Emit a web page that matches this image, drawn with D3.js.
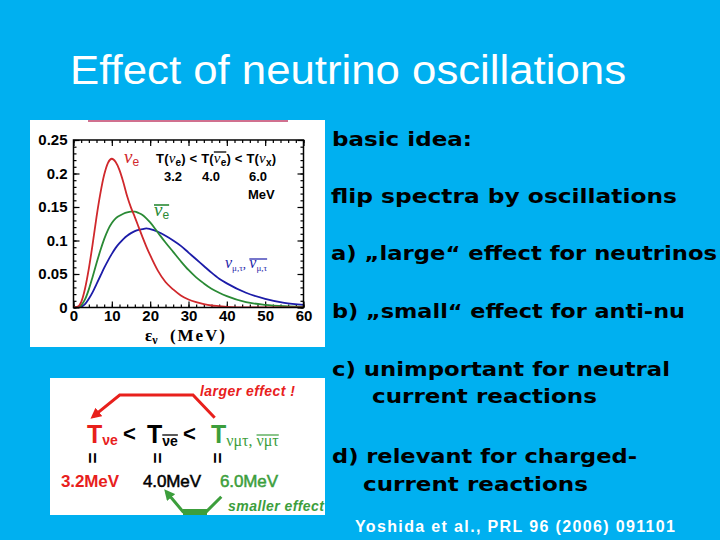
<!DOCTYPE html>
<html>
<head>
<meta charset="utf-8">
<script src="https://cdn.jsdelivr.net/npm/d3@7"></script>
<style>
  html, body { margin: 0; padding: 0; background: #00b0f0; }
  svg { display: block; }
</style>
</head>
<body>
<script>
// spectra (MeV, arbitrary norm)
const energy = [0, 1, 2, 3, 4, 5, 6, 7, 8, 9, 10, 11, 12, 13, 14, 15, 16, 17, 18, 19, 20,
  22, 24, 26, 28, 30, 32, 34, 36, 38, 40, 45, 50, 55, 60];
const nuE = [0, 0.001, 0.008, 0.028, 0.058, 0.095, 0.135, 0.17, 0.198, 0.216, 0.222, 0.217,
  0.205, 0.187, 0.166, 0.149, 0.135, 0.12, 0.105, 0.091, 0.078,
  0.055, 0.038, 0.027, 0.018, 0.012, 0.008, 0.005, 0.003, 0.002, 0.001, 0, 0, 0, 0];
const nuEBar = [0, 0, 0.003, 0.012, 0.027, 0.046, 0.066, 0.085, 0.102, 0.116, 0.126, 0.133,
  0.137, 0.14, 0.142, 0.143, 0.143, 0.141, 0.138, 0.133, 0.127,
  0.112, 0.097, 0.083, 0.069, 0.056, 0.045, 0.036, 0.028, 0.022, 0.017, 0.008, 0.004, 0.002, 0.001];
const nuX = [0, 0, 0.001, 0.005, 0.013, 0.023, 0.035, 0.047, 0.059, 0.07, 0.08, 0.089,
  0.096, 0.102, 0.107, 0.111, 0.114, 0.116, 0.117, 0.118, 0.117,
  0.113, 0.107, 0.1, 0.092, 0.082, 0.072, 0.062, 0.052, 0.043, 0.036, 0.022, 0.013, 0.007, 0.004];

const xTicks = [0, 10, 20, 30, 40, 50, 60];
const xMinor = d3.range(0, 61, 2);
const yTicks = [0, 0.05, 0.1, 0.15, 0.2, 0.25];
const yTickLabels = ['0', '0.05', '0.1', '0.15', '0.2', '0.25'];
const yMinor = d3.range(0, 26, 1).map((d) => d / 100);

const temps = ['3.2', '4.0', '6.0'];

const bullets = [
  'basic idea:',
  'flip spectra by oscillations',
  'a) \u201elarge\u201c effect for neutrinos',
  'b) \u201esmall\u201c effect for anti-nu',
  'c) unimportant for neutral',
  'current reactions',
  'd) relevant for charged-',
  'current reactions',
];
// x, baseline, width
const bulletPos = [
  [332, 146, 140], [331, 203, 346], [331, 260, 386], [332, 318, 353],
  [332, 376, 338], [372, 403, 225], [332, 463, 305], [363, 491, 225],
];

const SANS = '"Liberation Sans", Arial, sans-serif';
const HEAVY = '"DejaVu Sans", "Liberation Sans", sans-serif';
const SERIF = '"Liberation Serif", "Times New Roman", serif';
const RED = '#d0282c';
const GREEN = '#2a8a35';
const BLUE = '#1c1ca8';
const RED2 = '#e8201c';
const GREEN2 = '#3c9e3c';

const svg = d3.select('body').append('svg')
    .attr('width', 720)
    .attr('height', 540);

svg.append('rect')
    .attr('width', 720)
    .attr('height', 540)
    .attr('fill', '#00b0f0');

svg.append('text')
    .attr('x', 70)
    .attr('y', 84)
    .attr('font-family', SANS)
    .attr('font-size', 40)
    .attr('fill', '#fff')
    .attr('textLength', 556)
    .attr('lengthAdjust', 'spacingAndGlyphs')
    .text('Effect of neutrino oscillations');

// ---- chart panel ----
svg.append('rect')
    .attr('x', 30).attr('y', 120)
    .attr('width', 295).attr('height', 227)
    .attr('fill', '#fff');
svg.append('line')
    .attr('x1', 88).attr('x2', 288)
    .attr('y1', 121).attr('y2', 121)
    .attr('stroke', '#c0406a')
    .attr('stroke-width', 1.5);

const x = d3.scaleLinear().domain([0, 60]).range([73.5, 303.5]);
const y = d3.scaleLinear().domain([0, 0.25]).range([307.5, 140]);

function styleAxis(g) {
  g.select('.domain').remove();
  g.selectAll('line').attr('stroke', '#000').attr('stroke-width', 1.2);
  g.selectAll('text')
      .attr('font-family', SANS)
      .attr('font-weight', 'bold')
      .attr('font-size', 15)
      .attr('fill', '#000');
}

svg.append('g')
    .attr('transform', `translate(0,${y(0)})`)
    .call(d3.axisBottom(x).tickValues(xTicks).tickSize(-6).tickPadding(3)
        .tickFormat(d3.format('d')))
    .call(styleAxis);
svg.append('g')
    .attr('transform', `translate(0,${y(0)})`)
    .call(d3.axisBottom(x).tickValues(xMinor).tickSize(-3).tickFormat(''))
    .call(styleAxis);
svg.append('g')
    .attr('transform', `translate(0,${y(0.25)})`)
    .call(d3.axisTop(x).tickValues(xTicks).tickSize(-6).tickFormat(''))
    .call(styleAxis);
svg.append('g')
    .attr('transform', `translate(0,${y(0.25)})`)
    .call(d3.axisTop(x).tickValues(xMinor).tickSize(-3).tickFormat(''))
    .call(styleAxis);
svg.append('g')
    .attr('transform', `translate(${x(0)},0)`)
    .call(d3.axisLeft(y).tickValues(yTicks).tickSize(-6).tickPadding(6)
        .tickFormat((d, i) => yTickLabels[i]))
    .call(styleAxis);
svg.append('g')
    .attr('transform', `translate(${x(0)},0)`)
    .call(d3.axisLeft(y).tickValues(yMinor).tickSize(-3).tickFormat(''))
    .call(styleAxis);
svg.append('g')
    .attr('transform', `translate(${x(60)},0)`)
    .call(d3.axisRight(y).tickValues(yTicks).tickSize(-6).tickFormat(''))
    .call(styleAxis);
svg.append('g')
    .attr('transform', `translate(${x(60)},0)`)
    .call(d3.axisRight(y).tickValues(yMinor).tickSize(-3).tickFormat(''))
    .call(styleAxis);

svg.append('defs').append('clipPath').attr('id', 'plotClip')
    .append('rect')
    .attr('x', x(0)).attr('y', y(0.25))
    .attr('width', x(60) - x(0)).attr('height', y(0) - y(0.25));

const line = d3.line()
    .x((d, i) => x(energy[i]))
    .y((d) => y(d))
    .curve(d3.curveMonotoneX);

const series = [
  {values: nuX, color: BLUE},
  {values: nuEBar, color: GREEN},
  {values: nuE, color: RED},
];
svg.append('g')
    .attr('clip-path', 'url(#plotClip)')
    .selectAll('path')
    .data(series)
    .join('path')
    .attr('d', (d) => line(d.values))
    .attr('fill', 'none')
    .attr('stroke', (d) => d.color)
    .attr('stroke-width', 1.8);

svg.append('rect')
    .attr('x', x(0)).attr('y', y(0.25))
    .attr('width', x(60) - x(0)).attr('height', y(0) - y(0.25))
    .attr('fill', 'none')
    .attr('stroke', '#000')
    .attr('stroke-width', 1.5);

// draw an overbar from the start of tspan a to the end of tspan b
function overbar(a, b, yy, color, w) {
  const x1 = a.getStartPositionOfChar(0).x;
  const x2 = b.getEndPositionOfChar(b.getNumberOfChars() - 1).x;
  svg.append('line')
      .attr('x1', x1).attr('x2', x2)
      .attr('y1', yy).attr('y2', yy)
      .attr('stroke', color)
      .attr('stroke-width', w || 1.2);
}

function nu(t, sub, opt) {
  const a = t.append('tspan')
      .attr('font-family', SERIF).attr('font-style', 'italic')
      .attr('font-weight', 'normal')
      .attr('font-size', opt.nuSize).text('\u03bd');
  const b = t.append('tspan')
      .attr('font-family', opt.subFont || SANS)
      .attr('font-weight', opt.subWeight || 'bold')
      .attr('font-size', opt.subSize)
      .attr('dy', opt.dy).text(sub);
  return [a, b];
}

// nu_e label
{
  const t = svg.append('text').attr('x', 124).attr('y', 163).attr('fill', RED);
  nu(t, 'e', {nuSize: 19, subSize: 12, dy: 3, subWeight: 'normal'});
}
// temperature ordering
{
  const t = svg.append('text').attr('x', 156).attr('y', 163)
      .attr('font-family', SANS).attr('font-weight', 'bold')
      .attr('font-size', 13).attr('fill', '#000')
      .attr('textLength', 120);
  t.append('tspan').text('T(');
  nu(t, 'e', {nuSize: 15, subSize: 10, dy: 3});
  t.append('tspan').attr('dy', -3).text(') < T(');
  const bar = nu(t, 'e', {nuSize: 15, subSize: 10, dy: 3});
  t.append('tspan').attr('dy', -3).text(') < T(');
  nu(t, 'x', {nuSize: 15, subSize: 10, dy: 3});
  t.append('tspan').attr('dy', -3).text(')');
  overbar(bar[0].node(), bar[1].node(), 152, '#000', 1.3);
}
svg.selectAll('.temp')
    .data(temps)
    .join('text')
    .attr('class', 'temp')
    .attr('x', (d, i) => [173, 211, 258][i])
    .attr('y', 181)
    .attr('text-anchor', 'middle')
    .attr('font-family', SANS).attr('font-weight', 'bold')
    .attr('font-size', 13)
    .text((d) => d);
svg.append('text')
    .attr('x', 248).attr('y', 199)
    .attr('font-family', SANS).attr('font-weight', 'bold')
    .attr('font-size', 13)
    .text('MeV');
// anti nu_e label
{
  const t = svg.append('text').attr('x', 154).attr('y', 216).attr('fill', GREEN);
  const p = nu(t, 'e', {nuSize: 19, subSize: 12, dy: 3, subWeight: 'normal'});
  overbar(p[0].node(), p[1].node(), 205, GREEN, 1.6);
}
// nu_mu,tau label
{
  const t = svg.append('text').attr('x', 225).attr('y', 268).attr('fill', BLUE);
  nu(t, '\u03bc,\u03c4', {nuSize: 16, subSize: 9, dy: 3, subFont: SERIF, subWeight: 'normal'});
  t.append('tspan').attr('dy', -3).attr('font-family', SERIF).attr('font-size', 13).text(', ');
  const p = nu(t, '\u03bc,\u03c4', {nuSize: 16, subSize: 9, dy: 3, subFont: SERIF, subWeight: 'normal'});
  overbar(p[0].node(), p[1].node(), 259, BLUE, 1.2);
}
// axis title
{
  const t = svg.append('text').attr('x', 145).attr('y', 341)
      .attr('font-family', SERIF).attr('font-weight', 'bold')
      .attr('font-size', 17).attr('fill', '#000');
  t.append('tspan').text('\u03b5');
  t.append('tspan').attr('font-size', 12).attr('dy', 3).text('\u03bd');
  t.append('tspan').attr('dy', -3).attr('x', 170)
      .attr('textLength', 55).text('(MeV)');
}

// ---- lower diagram ----
svg.append('rect')
    .attr('x', 50).attr('y', 378)
    .attr('width', 275).attr('height', 137)
    .attr('fill', '#fff');

const defs = svg.select('defs');
[['arrRed', RED2], ['arrGreen', GREEN2]].forEach(([id, c]) => {
  defs.append('marker')
      .attr('id', id)
      .attr('viewBox', '0 0 10 10')
      .attr('refX', 7).attr('refY', 5)
      .attr('markerWidth', 3.6).attr('markerHeight', 3.6)
      .attr('orient', 'auto')
      .append('path')
      .attr('d', 'M0,0L10,5L0,10z')
      .attr('fill', c);
});

svg.append('path')
    .attr('d', d3.line()([[214.7, 417.7], [193, 395], [119.7, 395], [93, 416.7]]))
    .attr('fill', 'none')
    .attr('stroke', RED2)
    .attr('stroke-width', 3)
    .attr('marker-end', 'url(#arrRed)');
svg.append('path')
    .attr('d', d3.line()([[221.3, 496.7], [206.3, 511.7], [183, 511.7], [166.3, 491.7]]))
    .attr('fill', 'none')
    .attr('stroke', GREEN2)
    .attr('stroke-width', 3)
    .attr('marker-end', 'url(#arrGreen)');
svg.append('line')
    .attr('x1', 183).attr('x2', 207)
    .attr('y1', 512).attr('y2', 512)
    .attr('stroke', GREEN2)
    .attr('stroke-width', 6);

svg.append('text')
    .attr('x', 200).attr('y', 396)
    .attr('font-family', SANS).attr('font-weight', 'bold')
    .attr('font-style', 'italic').attr('font-size', 14)
    .attr('fill', RED2)
    .attr('textLength', 95)
    .text('larger effect !');
svg.append('text')
    .attr('x', 228).attr('y', 511)
    .attr('font-family', SANS).attr('font-weight', 'bold')
    .attr('font-style', 'italic').attr('font-size', 14)
    .attr('fill', GREEN2)
    .attr('textLength', 96)
    .text('smaller effect');

// T symbols
function bigT(xx, color) {
  return svg.append('text')
      .attr('x', xx).attr('y', 443)
      .attr('font-family', SANS).attr('font-weight', 'bold')
      .attr('font-size', 25).attr('fill', color);
}
{
  const t = bigT(87, RED2);
  t.append('tspan').text('T');
  t.append('tspan').attr('font-size', 14).attr('dy', 2).text('\u03bde');
}
svg.append('text').attr('x', 123).attr('y', 441)
    .attr('font-family', SANS).attr('font-weight', 'bold')
    .attr('font-size', 22).text('<');
{
  const t = bigT(147, '#000');
  t.append('tspan').text('T');
  const s = t.append('tspan').attr('font-size', 14).attr('dy', 3).text('\u03bde');
  overbar(s.node(), s.node(), 435, '#000', 1.3);
}
svg.append('text').attr('x', 183).attr('y', 441)
    .attr('font-family', SANS).attr('font-weight', 'bold')
    .attr('font-size', 22).text('<');
{
  const t = bigT(211, GREEN2);
  t.append('tspan').text('T');
  t.append('tspan').attr('font-family', SERIF).attr('font-weight', 'normal')
      .attr('font-size', 16).attr('dy', 3).text('\u03bd\u03bc\u03c4, ');
  const s = t.append('tspan').attr('font-family', SERIF).attr('font-weight', 'normal')
      .attr('font-size', 16).text('\u03bd\u03bc\u03c4');
  overbar(s.node(), s.node(), 435, GREEN2, 1.2);
}
// equality marks
[93, 158, 218].forEach((xx) => {
  svg.append('text')
      .attr('transform', `translate(${xx},458) rotate(90)`)
      .attr('text-anchor', 'middle')
      .attr('dy', '0.35em')
      .attr('font-family', SANS).attr('font-weight', 'bold')
      .attr('font-size', 19)
      .text('=');
});
svg.selectAll('.tval')
    .data(temps)
    .join('text')
    .attr('class', 'tval')
    .attr('x', (d, i) => [61, 143, 220][i])
    .attr('y', 487)
    .attr('font-family', SANS)
    .attr('font-weight', (d, i) => i === 0 ? 'bold' : 'normal')
    .attr('font-size', 17)
    .attr('fill', (d, i) => [RED2, '#000', GREEN2][i])
    .attr('stroke', (d, i) => [RED2, '#000', GREEN2][i])
    .attr('stroke-width', (d, i) => i === 0 ? 0 : 0.5)
    .attr('textLength', 58)
    .text((d) => d + 'MeV');

// ---- bullet text ----
svg.selectAll('.bullet')
    .data(bullets)
    .join('text')
    .attr('class', 'bullet')
    .attr('x', (d, i) => bulletPos[i][0])
    .attr('y', (d, i) => bulletPos[i][1])
    .attr('textLength', (d, i) => bulletPos[i][2])
    .attr('lengthAdjust', 'spacingAndGlyphs')
    .attr('font-family', HEAVY)
    .attr('font-weight', 'bold')
    .attr('font-size', 20)
    .attr('fill', '#000')
    .text((d) => d);

svg.append('text')
    .attr('x', 355).attr('y', 532)
    .attr('textLength', 320)
    .attr('lengthAdjust', 'spacing')
    .attr('font-family', SANS).attr('font-weight', 'bold')
    .attr('font-size', 16)
    .attr('fill', '#fff')
    .text('Yoshida et al., PRL 96 (2006) 091101');
</script>
</body>
</html>
